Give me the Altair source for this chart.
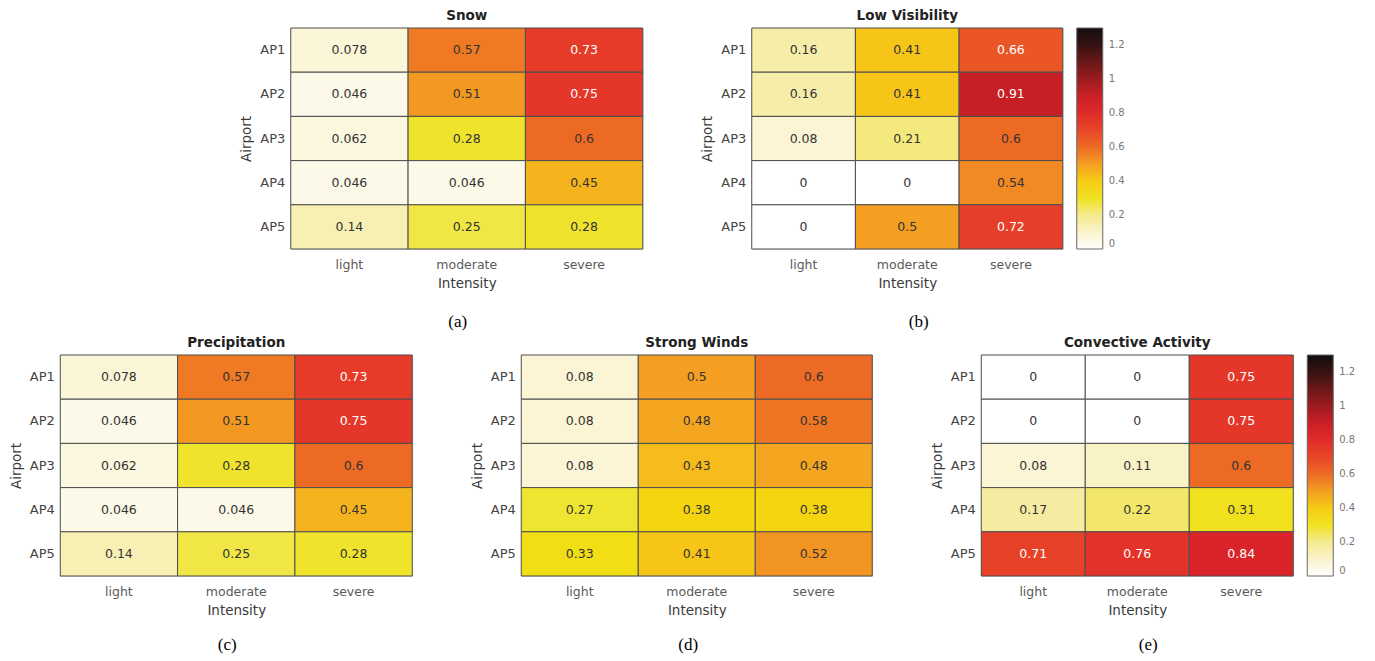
import altair as alt
import pandas as pd

intensity = ["light", "moderate", "severe"]
airports = ["AP1", "AP2", "AP3", "AP4", "AP5"]

# rows = AP1..AP5, columns = light, moderate, severe
snow = [
    [0.078, 0.57, 0.73],
    [0.046, 0.51, 0.75],
    [0.062, 0.28, 0.6],
    [0.046, 0.046, 0.45],
    [0.14, 0.25, 0.28],
]
low_visibility = [
    [0.16, 0.41, 0.66],
    [0.16, 0.41, 0.91],
    [0.08, 0.21, 0.6],
    [0, 0, 0.54],
    [0, 0.5, 0.72],
]
precipitation = [
    [0.078, 0.57, 0.73],
    [0.046, 0.51, 0.75],
    [0.062, 0.28, 0.6],
    [0.046, 0.046, 0.45],
    [0.14, 0.25, 0.28],
]
strong_winds = [
    [0.08, 0.5, 0.6],
    [0.08, 0.48, 0.58],
    [0.08, 0.43, 0.48],
    [0.27, 0.38, 0.38],
    [0.33, 0.41, 0.52],
]
convective = [
    [0, 0, 0.75],
    [0, 0, 0.75],
    [0.08, 0.11, 0.6],
    [0.17, 0.22, 0.31],
    [0.71, 0.76, 0.84],
]
legend_ticks = [0, 0.2, 0.4, 0.6, 0.8, 1, 1.2]

# colormap (style)
COLOR_STOPS = [0, 0.05, 0.1, 0.15, 0.2, 0.23, 0.27, 0.33, 0.38, 0.42, 0.46, 0.5,
               0.55, 0.6, 0.66, 0.72, 0.78, 0.85, 0.92, 1.0, 1.1, 1.2, 1.3]
COLOR_RANGE = ["#ffffff", "#fdf9e6", "#faf3cc", "#f7eeae", "#f4ea8e", "#f1e65a",
               "#eee530", "#f1de14", "#f4d510", "#f6c01a", "#f5ae1e", "#f49e22",
               "#f08522", "#ed6a24", "#ea5626", "#e63e28", "#e22e29", "#da2229",
               "#c41e26", "#9c1b20", "#6a1818", "#361212", "#120e0e"]

FONT = "DejaVu Sans"
SERIF = "Liberation Serif"
H = 221


def make_df(values):
    rows = []
    for ap, row in zip(airports, values):
        for it, v in zip(intensity, row):
            rows.append({"Airport": ap, "Intensity": it, "v": v})
    return pd.DataFrame(rows)


def panel(title, values, caption, width, show_legend, cap_y):
    df = make_df(values)
    base = alt.Chart(df)
    x = alt.X("Intensity:N", sort=intensity, title="Intensity",
              axis=alt.Axis(labelAngle=0, ticks=False, domain=False, labelPadding=9,
                            labelFont=FONT, labelFontSize=12.5, labelColor="#5a5a5a",
                            titleFont=FONT, titleFontSize=13.5, titleFontWeight="normal",
                            titleColor="#3a3a3a", titlePadding=6))
    y = alt.Y("Airport:N", sort=airports, title="Airport",
              axis=alt.Axis(ticks=False, domain=False, labelPadding=6,
                            labelFont=FONT, labelFontSize=13, labelColor="#444444",
                            titleFont=FONT, titleFontSize=13.5, titleFontWeight="normal",
                            titleColor="#3a3a3a", titlePadding=6))
    if show_legend:
        leg = alt.Legend(title=None, orient="right", direction="vertical",
                         gradientLength=H, gradientThickness=26,
                         gradientStrokeColor="#666666", gradientStrokeWidth=1,
                         labelFont=FONT, labelFontSize=10, labelColor="#777777",
                         labelOffset=6, values=legend_ticks, offset=14,
                         labelExpr="format(datum.value, '~g')")
    else:
        leg = None
    color = alt.Color("v:Q", scale=alt.Scale(domain=COLOR_STOPS, range=COLOR_RANGE,
                                             interpolate="rgb"),
                      legend=leg)
    rect = base.mark_rect(stroke="#4d4d4d", strokeWidth=1).encode(x=x, y=y, color=color)
    text = base.mark_text(font=FONT, fontSize=12.5).encode(
        x=x, y=y,
        text=alt.Text("v:Q", format="~g"),
        color=alt.condition("datum.v >= 0.65", alt.value("#ffffff"), alt.value("#333333")),
    )
    cap = alt.Chart(pd.DataFrame({"cap": [caption]})).mark_text(
        font=SERIF, fontSize=17, color="#000000"
    ).encode(text="cap:N", x=alt.value(167), y=alt.value(cap_y))
    return alt.layer(rect, text, cap).properties(
        width=width, height=H,
        title=alt.TitleParams(title, font=FONT, fontSize=13.5, fontWeight="bold",
                              color="#222222", anchor="middle", frame="group", offset=5),
    )


top = alt.hconcat(
    panel("Snow", snow, "(a)", 352, False, 294),
    panel("Low Visibility", low_visibility, "(b)", 311, True, 294),
    spacing=56,
).resolve_scale(color="independent")

bottom = alt.hconcat(
    panel("Precipitation", precipitation, "(c)", 352, False, 290),
    panel("Strong Winds", strong_winds, "(d)", 351, False, 290),
    panel("Convective Activity", convective, "(e)", 312, True, 290),
    spacing=56,
).resolve_scale(color="independent")

chart = alt.vconcat(top, bottom, spacing=4, center=True).resolve_scale(
    color="independent"
).properties(
    padding={"left": 0, "top": 0, "right": 0, "bottom": 0}
).configure_view(strokeWidth=0).configure(background="#ffffff")

chart.save("out.html", embed_options={"renderer": "svg", "actions": False})
